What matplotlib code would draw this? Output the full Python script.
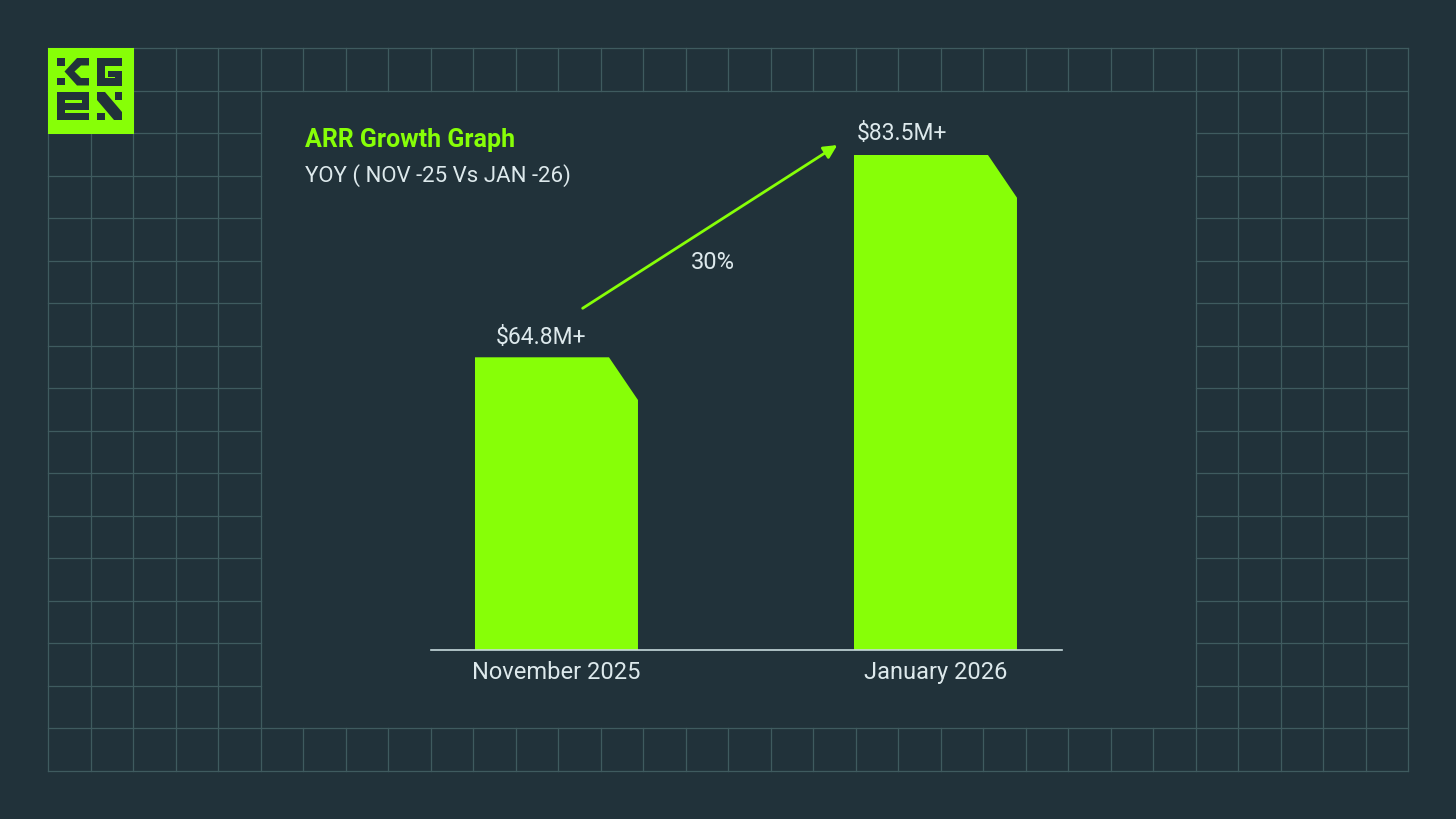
import matplotlib
matplotlib.use("Agg")
import matplotlib.pyplot as plt
from matplotlib.patches import Polygon, Rectangle

# ---------------- data ----------------
months = ["November 2025", "January 2026"]
arr_musd = [64.8, 83.5]
value_labels = ["$64.8M+", "$83.5M+"]
growth_label = "30%"
title = "ARR Growth Graph"
subtitle = "YOY ( NOV -25 Vs JAN -26)"

# ---------------- style ----------------
BG = "#21323a"
GRID = "#3f5b5f"
LIME = "#87ff07"
TEXT = "#dde9ec"
BASE = "#c6dadb"
plt.rcParams["font.family"] = ["Roboto", "DejaVu Sans"]

W, H = 1456, 819
fig = plt.figure(figsize=(W / 100, H / 100), dpi=100, facecolor=BG)

# background / decoration layer in pixel coordinates
bg = fig.add_axes([0, 0, 1, 1])
bg.set_xlim(0, W)
bg.set_ylim(H, 0)
bg.axis("off")
bg.set_facecolor(BG)
bg.set_zorder(0)

x0, y0, cell = 48.0, 48.0, 42.5
ncol, nrow = 32, 17
pc0, pc1, pr0, pr1 = 5, 27, 1, 16  # inner panel (no grid)
xs = [x0 + i * cell for i in range(ncol + 1)]
ys = [y0 + j * cell for j in range(nrow + 1)]
glw = 0.9
for i, x in enumerate(xs):
    if pc0 < i < pc1:
        bg.plot([x, x], [ys[0], ys[pr0]], color=GRID, lw=glw)
        bg.plot([x, x], [ys[pr1], ys[-1]], color=GRID, lw=glw)
    else:
        bg.plot([x, x], [ys[0], ys[-1]], color=GRID, lw=glw)
for j, y in enumerate(ys):
    if pr0 < j < pr1:
        bg.plot([xs[0], xs[pc0]], [y, y], color=GRID, lw=glw)
        bg.plot([xs[pc1], xs[-1]], [y, y], color=GRID, lw=glw)
    else:
        bg.plot([xs[0], xs[-1]], [y, y], color=GRID, lw=glw)

# logo
bg.add_patch(Rectangle((48, 48), 85.5, 85.5, facecolor=LIME, edgecolor="none", zorder=3))
D = BG
logo_rects = [
    (57, 58, 7.5, 7.5), (57, 77.5, 7.5, 7.5),                        # K dots
    (97, 58, 25, 7.5), (97, 58, 7.5, 27.5), (97, 78, 25, 7.5),       # G
    (114.5, 70.5, 7.5, 15), (108, 70.5, 14, 6.5),
    (57, 92, 32, 7.5), (57, 92, 7.5, 28), (81.5, 92, 7.5, 18),       # e
    (57, 103, 32, 6.5), (57, 112.5, 32, 7.5),
    (114.5, 92, 7.5, 7.5), (97, 112.5, 7.5, 7.5),                    # N dots
]
for (rx, ry, rw, rh) in logo_rects:
    bg.add_patch(Rectangle((rx, ry), rw, rh, facecolor=D, edgecolor="none", zorder=4))
bg.add_patch(Polygon([(89, 58), (77, 58), (64.5, 71.5), (77, 85.5), (89, 85.5), (89, 78),
                      (81, 78), (74.5, 71.5), (81, 65.5), (89, 65.5)],
                     closed=True, facecolor=D, edgecolor="none", zorder=4))
bg.add_patch(Polygon([(97, 92), (105, 92), (122, 112), (122, 120), (114, 120), (97, 100)],
                     closed=True, facecolor=D, edgecolor="none", zorder=4))

# titles
bg.text(305, 147.3, title, color=LIME, fontsize=18, fontweight="bold", ha="left", va="baseline")
bg.text(305, 181.5, subtitle, color=TEXT, fontsize=16, ha="left", va="baseline")

# ---------------- chart axes ----------------
ax = fig.add_axes([431 / W, (H - 650) / H, 631 / W, 559 / H])
ax.patch.set_alpha(0)
ax.set_zorder(1)
ymin, ymax = 37.743, 89.416
ax.set_xlim(-0.3311, 1.3338)
ax.set_ylim(ymin, ymax)

bar_w = 0.43
cut_x, cut_y = 0.0765, 3.95
xpos = list(range(len(months)))
for x, v in zip(xpos, arr_musd):
    left, right = x - bar_w / 2, x + bar_w / 2
    verts = [(left, ymin), (left, v), (right - cut_x, v), (right, v - cut_y), (right, ymin)]
    ax.add_patch(Polygon(verts, closed=True, facecolor=LIME, edgecolor="none", zorder=2))

label_dx = [-15, -33]
label_dy = [13, 15]
for x, v, lab, dx, dy in zip(xpos, arr_musd, value_labels, label_dx, label_dy):
    ax.annotate(lab, xy=(x, v), xytext=(dx, dy), textcoords="offset pixels",
                ha="center", va="baseline", color=TEXT, fontsize=16.5)

ax.annotate("", xy=(0.741, 84.42), xytext=(0.069, 69.33),
            arrowprops=dict(arrowstyle="-|>", color=LIME, lw=2, mutation_scale=20,
                            shrinkA=0, shrinkB=0), zorder=3)
ax.text(0.413, 72.93, growth_label, color=TEXT, fontsize=17, ha="center", va="baseline")

for s in ["top", "left", "right"]:
    ax.spines[s].set_visible(False)
ax.spines["bottom"].set_color(BASE)
ax.spines["bottom"].set_linewidth(1.2)
ax.set_yticks([])
ax.set_xticks(xpos)
ax.set_xticklabels(months, color=TEXT, fontsize=17)
ax.tick_params(axis="x", length=0, pad=8)

fig.savefig("out.png", dpi=100, facecolor=BG)
